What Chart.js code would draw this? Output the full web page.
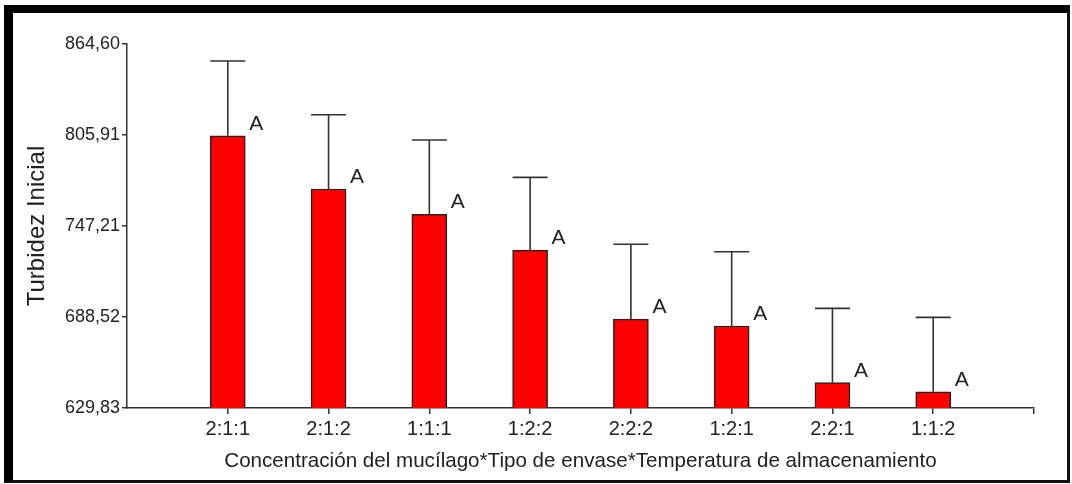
<!DOCTYPE html>
<html>
<head>
<meta charset="utf-8">
<script src="https://cdn.jsdelivr.net/npm/chart.js@4/dist/chart.umd.min.js"></script>
<style>
  html, body { margin: 0; padding: 0; background: #fff; }
  #wrap { position: relative; width: 1072px; height: 484px; }
  #c { position: absolute; left: 0; top: 0; }
  #frame {
    position: absolute; left: 4px; top: 5px; width: 1066px; height: 478px;
    box-sizing: border-box; pointer-events: none;
    border-left: 9px solid #000; border-top: 8px solid #000;
    border-right: 3px solid #111; border-bottom: 3px solid #111;
  }
</style>
</head>
<body>
<div id="wrap">
  <canvas id="c" width="1072" height="484"></canvas>
  <div id="frame"></div>
</div>
<script>
// Treatment combinations: mucilage concentration * container type * storage temperature
const categories = ['2:1:1', '2:1:2', '1:1:1', '1:2:2', '2:2:2', '1:2:1', '2:2:1', '1:1:2'];
// Mean initial turbidity per treatment
const means = [805.4, 771.1, 754.7, 731.7, 687.2, 682.7, 646.2, 640.3];
// Standard error drawn above each bar
const errors = [48.2, 47.9, 48.0, 46.9, 48.2, 47.9, 47.9, 48.0];
// Significance grouping letters
const groupLetters = ['A', 'A', 'A', 'A', 'A', 'A', 'A', 'A'];
// Y axis tick values
const yTicks = [629.83, 688.52, 747.21, 805.91, 864.60];

// One empty slot on each side so the bars sit a full step away from the axis ends
const labels = [''].concat(categories, ['']);
const barData = [null].concat(means, [null]);
const errData = [null].concat(errors, [null]);
const letterData = [null].concat(groupLetters, [null]);

const FONT = "'Liberation Sans', Arial, sans-serif";
const INK = '#222';

const errorBarsAndLetters = {
  id: 'errorBarsAndLetters',
  afterDatasetsDraw(chart) {
    const ctx = chart.ctx;
    const meta = chart.getDatasetMeta(0);
    const y = chart.scales.y;
    ctx.save();
    meta.data.forEach((bar, i) => {
      const v = barData[i];
      if (v == null) return;
      const half = bar.width / 2;
      const top = y.getPixelForValue(v);
      const cap = y.getPixelForValue(v + errData[i]);
      ctx.strokeStyle = '#333';
      ctx.lineWidth = 1.6;
      ctx.beginPath();
      ctx.moveTo(bar.x, top);
      ctx.lineTo(bar.x, cap);
      ctx.moveTo(bar.x - half, cap);
      ctx.lineTo(bar.x + half, cap);
      ctx.stroke();
      ctx.fillStyle = INK;
      ctx.font = '21px ' + FONT;
      ctx.textAlign = 'left';
      ctx.textBaseline = 'alphabetic';
      ctx.fillText(letterData[i], bar.x + half + 4, top - 6);
    });
    ctx.restore();
  }
};

new Chart(document.getElementById('c'), {
  type: 'bar',
  data: {
    labels: labels,
    datasets: [{
      data: barData,
      backgroundColor: '#ff0000',
      borderColor: '#222',
      borderWidth: 1.5,
      borderSkipped: 'bottom',
      barThickness: 35
    }]
  },
  options: {
    responsive: false,
    animation: false,
    devicePixelRatio: 1,
    layout: { padding: { left: 0, right: 38, top: 44, bottom: 0 } },
    plugins: { legend: { display: false }, tooltip: { enabled: false } },
    scales: {
      x: {
        offset: false,
        afterFit(scale) { scale.height = 76; },
        grid: {
          display: true, offset: false, drawOnChartArea: false, drawTicks: true, tickLength: 6,
          color: (c) => (c.index === 0 ? 'rgba(0,0,0,0)' : '#333'), lineWidth: 1.5
        },
        border: { display: true, color: '#333', width: 1.5 },
        ticks: { color: INK, font: { family: FONT, size: 20 }, padding: 3, autoSkip: false, maxRotation: 0 },
        title: {
          display: true,
          text: 'Concentración del mucílago*Tipo de envase*Temperatura de almacenamiento',
          color: INK,
          font: { family: FONT, size: 20.6 },
          padding: { top: 0, bottom: 10 }
        }
      },
      y: {
        min: yTicks[0],
        max: yTicks[yTicks.length - 1],
        afterFit(scale) { scale.width = 127; },
        afterBuildTicks(scale) { scale.ticks = yTicks.map(v => ({ value: v })); },
        grid: { display: true, drawOnChartArea: false, drawTicks: true, tickLength: 5, color: '#333', lineWidth: 1.5 },
        border: { display: true, color: '#333', width: 1.5 },
        ticks: {
          color: INK,
          font: { family: FONT, size: 18 },
          padding: 2,
          callback: (v) => Number(v).toFixed(2).replace('.', ',')
        },
        title: {
          display: true,
          text: 'Turbidez Inicial',
          color: INK,
          font: { family: FONT, size: 24 },
          padding: { top: 23, bottom: 0 }
        }
      }
    }
  },
  plugins: [errorBarsAndLetters]
});
</script>
</body>
</html>
